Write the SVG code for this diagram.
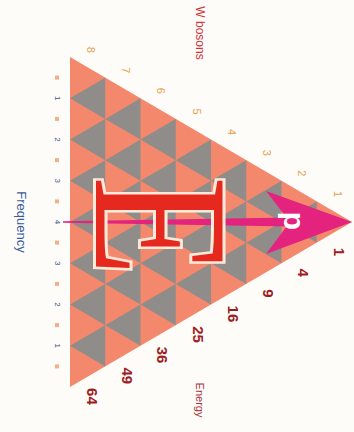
<svg xmlns="http://www.w3.org/2000/svg" width="354" height="432" viewBox="0 0 354 432">
<defs>
<style>
.wb{font-family:"Liberation Sans",Arial,sans-serif;font-size:11px;fill:#E8A050;text-anchor:middle;dominant-baseline:central}
.en{font-family:"Liberation Sans",Arial,sans-serif;font-size:15px;font-weight:bold;fill:#A01C24;text-anchor:middle;dominant-baseline:central}
.fq{font-family:"Liberation Sans",Arial,sans-serif;font-size:8px;fill:#3A4E8C;text-anchor:middle;dominant-baseline:central}
.tick{fill:#F2B08A}
.gray{fill:#8F8C8A}
</style>
<path id="dn" d="M0,0 L35.25,-20.625 L35.25,20.625Z"/>
</defs>
<rect width="354" height="432" fill="#FDFCF8"/>
<g id="triangle">
<path d="M352,222 L70,57 L70,387Z" fill="#F4886C"/>
<g class="gray">
<use href="#dn" x="281.5" y="222"/>
<use href="#dn" x="246.25" y="201.375"/><use href="#dn" x="246.25" y="242.625"/>
<use href="#dn" x="211" y="180.75"/><use href="#dn" x="211" y="222"/><use href="#dn" x="211" y="263.25"/>
<use href="#dn" x="175.75" y="160.125"/><use href="#dn" x="175.75" y="201.375"/><use href="#dn" x="175.75" y="242.625"/><use href="#dn" x="175.75" y="283.875"/>
<use href="#dn" x="140.5" y="139.5"/><use href="#dn" x="140.5" y="180.75"/><use href="#dn" x="140.5" y="222"/><use href="#dn" x="140.5" y="263.25"/><use href="#dn" x="140.5" y="304.5"/>
<use href="#dn" x="105.25" y="118.875"/><use href="#dn" x="105.25" y="160.125"/><use href="#dn" x="105.25" y="201.375"/><use href="#dn" x="105.25" y="242.625"/><use href="#dn" x="105.25" y="283.875"/><use href="#dn" x="105.25" y="325.125"/>
<use href="#dn" x="70" y="98.25"/><use href="#dn" x="70" y="139.5"/><use href="#dn" x="70" y="180.75"/><use href="#dn" x="70" y="222"/><use href="#dn" x="70" y="263.25"/><use href="#dn" x="70" y="304.5"/><use href="#dn" x="70" y="345.75"/>
</g>
</g>
<g id="connectors">
<path id="shaft" d="M63,221.2 L290,217.5 L290,226.5 L63,222.8Z" fill="#E3237E"/>
</g>
<g id="letterE">
<text transform="translate(96,176) rotate(90) scale(0.85,1)" font-family="'Liberation Serif','Times New Roman',serif" font-size="193" fill="#E5291F" stroke="#FCEBDA" stroke-width="6" paint-order="stroke">E</text>
</g>
<g id="arrow">
<path d="M352,222 L266,191 L290,222 L266,254Z" fill="#E3237E"/>
<text transform="translate(294,221) rotate(90)" font-family="'Liberation Sans',Arial,sans-serif" font-weight="bold" font-size="30" fill="#FFFFFF" text-anchor="middle" dominant-baseline="central">p</text>
</g>
<g id="wbosons">
<text transform="translate(200,33) rotate(90)" font-family="'Liberation Sans',Arial,sans-serif" font-size="12" fill="#D0343A" text-anchor="middle" dominant-baseline="central">W bosons</text>
<text class="wb" transform="translate(337.6,194) rotate(90)">1</text>
<text class="wb" transform="translate(302.4,173.4) rotate(90)">2</text>
<text class="wb" transform="translate(267.1,152.8) rotate(90)">3</text>
<text class="wb" transform="translate(231.9,132.1) rotate(90)">4</text>
<text class="wb" transform="translate(196.6,111.5) rotate(90)">5</text>
<text class="wb" transform="translate(161.4,90.9) rotate(90)">6</text>
<text class="wb" transform="translate(126.1,70.3) rotate(90)">7</text>
<text class="wb" transform="translate(90.9,49.7) rotate(90)">8</text>
</g>
<g id="energy">
<text transform="translate(200,400) rotate(90)" font-family="'Liberation Sans',Arial,sans-serif" font-size="11" fill="#A8343A" text-anchor="middle" dominant-baseline="central">Energy</text>
<text class="en" transform="translate(339,252) rotate(90)">1</text>
<text class="en" transform="translate(303.8,272.6) rotate(90)">4</text>
<text class="en" transform="translate(268.5,293.3) rotate(90)">9</text>
<text class="en" transform="translate(233.3,313.9) rotate(90)">16</text>
<text class="en" transform="translate(198,334.5) rotate(90)">25</text>
<text class="en" transform="translate(162.8,355.1) rotate(90)">36</text>
<text class="en" transform="translate(127.5,375.8) rotate(90)">49</text>
<text class="en" transform="translate(92.3,396.4) rotate(90)">64</text>
</g>
<g id="frequency">
<text transform="translate(21,222) rotate(90)" font-family="'Liberation Sans',Arial,sans-serif" font-size="13" fill="#3A5C9E" text-anchor="middle" dominant-baseline="central">Frequency</text>
<text class="fq" transform="translate(57,98.25) rotate(90)">1</text>
<text class="fq" transform="translate(57,139.5) rotate(90)">2</text>
<text class="fq" transform="translate(57,180.75) rotate(90)">3</text>
<text class="fq" transform="translate(57,222) rotate(90)">4</text>
<text class="fq" transform="translate(57,263.25) rotate(90)">3</text>
<text class="fq" transform="translate(57,304.5) rotate(90)">2</text>
<text class="fq" transform="translate(57,345.75) rotate(90)">1</text>
<rect class="tick" x="55" y="75.6" width="4" height="4"/>
<rect class="tick" x="55" y="116.9" width="4" height="4"/>
<rect class="tick" x="55" y="158.1" width="4" height="4"/>
<rect class="tick" x="55" y="199.4" width="4" height="4"/>
<rect class="tick" x="55" y="240.6" width="4" height="4"/>
<rect class="tick" x="55" y="281.9" width="4" height="4"/>
<rect class="tick" x="55" y="323.1" width="4" height="4"/>
<rect class="tick" x="55" y="364.4" width="4" height="4"/>
</g>
</svg>
